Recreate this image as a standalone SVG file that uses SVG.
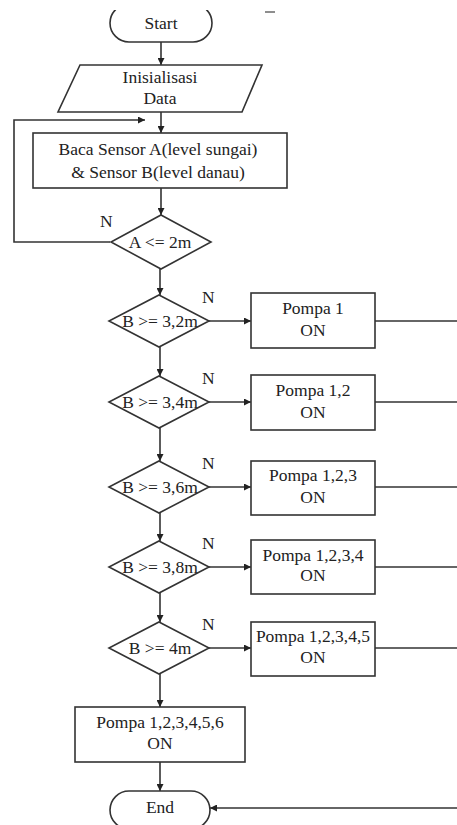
<svg xmlns="http://www.w3.org/2000/svg" width="457" height="825" viewBox="0 0 457 825" font-family="Liberation Serif, Times New Roman, serif">
<style>
.s{fill:#fff;stroke:#333;stroke-width:1.6}
.c{fill:none;stroke:#333;stroke-width:1.6}
text{font-size:17.5px;fill:#222;text-anchor:middle}
.n{text-anchor:start}
</style>
<defs>
<marker id="ah" viewBox="0 0 10 10" refX="10" refY="5" markerWidth="7" markerHeight="7" markerUnits="userSpaceOnUse" orient="auto">
<path d="M0,0 L10,5 L0,10 z" fill="#222"/>
</marker>
<clipPath id="clipTop"><rect x="0" y="10" width="457" height="815"/></clipPath>
</defs>
<rect width="457" height="825" fill="#fff"/>
<line x1="265" y1="12" x2="275" y2="12" stroke="#444" stroke-width="1.2"/>
<g id="connectors">
<line class="c" x1="161" y1="42" x2="161" y2="65" marker-end="url(#ah)"/>
<line class="c" x1="161" y1="112" x2="161" y2="133" marker-end="url(#ah)"/>
<path class="c" d="M110,242 H14 V120 H145" marker-end="url(#ah)"/>
<line class="c" x1="161" y1="188" x2="161" y2="215" marker-end="url(#ah)"/>
<line class="c" x1="160" y1="269" x2="160" y2="295" marker-end="url(#ah)"/>
<line class="c" x1="209" y1="321" x2="251" y2="321" marker-end="url(#ah)"/>
<line class="c" x1="375" y1="321" x2="457" y2="321"/>
<line class="c" x1="160" y1="347" x2="160" y2="376" marker-end="url(#ah)"/>
<line class="c" x1="209" y1="402" x2="251" y2="402" marker-end="url(#ah)"/>
<line class="c" x1="375" y1="402" x2="457" y2="402"/>
<line class="c" x1="160" y1="428" x2="160" y2="461" marker-end="url(#ah)"/>
<line class="c" x1="209" y1="487" x2="251" y2="487" marker-end="url(#ah)"/>
<line class="c" x1="375" y1="487" x2="457" y2="487"/>
<line class="c" x1="160" y1="513" x2="160" y2="541" marker-end="url(#ah)"/>
<line class="c" x1="209" y1="567" x2="251" y2="567" marker-end="url(#ah)"/>
<line class="c" x1="375" y1="567" x2="457" y2="567"/>
<line class="c" x1="160" y1="593" x2="160" y2="622" marker-end="url(#ah)"/>
<line class="c" x1="209" y1="648" x2="251" y2="648" marker-end="url(#ah)"/>
<line class="c" x1="375" y1="648" x2="457" y2="648"/>
<line class="c" x1="160" y1="674" x2="160" y2="707" marker-end="url(#ah)"/>
<line class="c" x1="160" y1="762" x2="160" y2="791" marker-end="url(#ah)"/>
<line class="c" x1="457" y1="808" x2="210" y2="808" marker-end="url(#ah)"/>
<text class="n" x="100" y="227">N</text>
<text class="n" x="202" y="303">N</text>
<text class="n" x="202" y="384">N</text>
<text class="n" x="202" y="469">N</text>
<text class="n" x="202" y="549">N</text>
<text class="n" x="202" y="630">N</text>
</g>
<g id="start">
<rect class="s" x="110" y="4" width="102" height="38" rx="19" clip-path="url(#clipTop)"/>
<text x="161" y="29">Start</text>
</g>
<g id="init">
<polygon class="s" points="80,65 262,65 242,112 58,112"/>
<text x="160" y="83">Inisialisasi</text>
<text x="160" y="104">Data</text>
</g>
<g id="read">
<rect class="s" x="33" y="133" width="254" height="55"/>
<text x="158" y="155">Baca Sensor A(level sungai)</text>
<text x="158" y="178">&amp; Sensor B(level danau)</text>
</g>
<g id="decA">
<polygon class="s" points="161,215 211,242 161,269 111,242"/>
<text x="160" y="248">A &lt;= 2m</text>
</g>
<g id="dec1">
<polygon class="s" points="159,295 209,321 159,347 109,321"/>
<text x="160" y="327">B &gt;= 3,2m</text>
</g>
<g id="p1">
<rect class="s" x="251" y="293" width="124" height="55"/>
<text x="313" y="314">Pompa 1</text>
<text x="313" y="336">ON</text>
</g>
<g id="dec2">
<polygon class="s" points="159,376 209,402 159,428 109,402"/>
<text x="160" y="408">B &gt;= 3,4m</text>
</g>
<g id="p2">
<rect class="s" x="251" y="375" width="124" height="55"/>
<text x="313" y="396">Pompa 1,2</text>
<text x="313" y="418">ON</text>
</g>
<g id="dec3">
<polygon class="s" points="159,461 209,487 159,513 109,487"/>
<text x="160" y="493">B &gt;= 3,6m</text>
</g>
<g id="p3">
<rect class="s" x="251" y="461" width="124" height="54"/>
<text x="313" y="481">Pompa 1,2,3</text>
<text x="313" y="503">ON</text>
</g>
<g id="dec4">
<polygon class="s" points="159,541 209,567 159,593 109,567"/>
<text x="160" y="573">B &gt;= 3,8m</text>
</g>
<g id="p4">
<rect class="s" x="251" y="540" width="124" height="54"/>
<text x="313" y="561">Pompa 1,2,3,4</text>
<text x="313" y="581">ON</text>
</g>
<g id="dec5">
<polygon class="s" points="159,622 209,648 159,674 109,648"/>
<text x="160" y="654">B &gt;= 4m</text>
</g>
<g id="p5">
<rect class="s" x="251" y="622" width="124" height="54"/>
<text x="313" y="642">Pompa 1,2,3,4,5</text>
<text x="313" y="663">ON</text>
</g>
<g id="p6">
<rect class="s" x="75" y="707" width="170" height="55"/>
<text x="160" y="728">Pompa 1,2,3,4,5,6</text>
<text x="160" y="749">ON</text>
</g>
<g id="end">
<rect class="s" x="110" y="791" width="100" height="38" rx="19"/>
<text x="160" y="813">End</text>
</g>
</svg>
